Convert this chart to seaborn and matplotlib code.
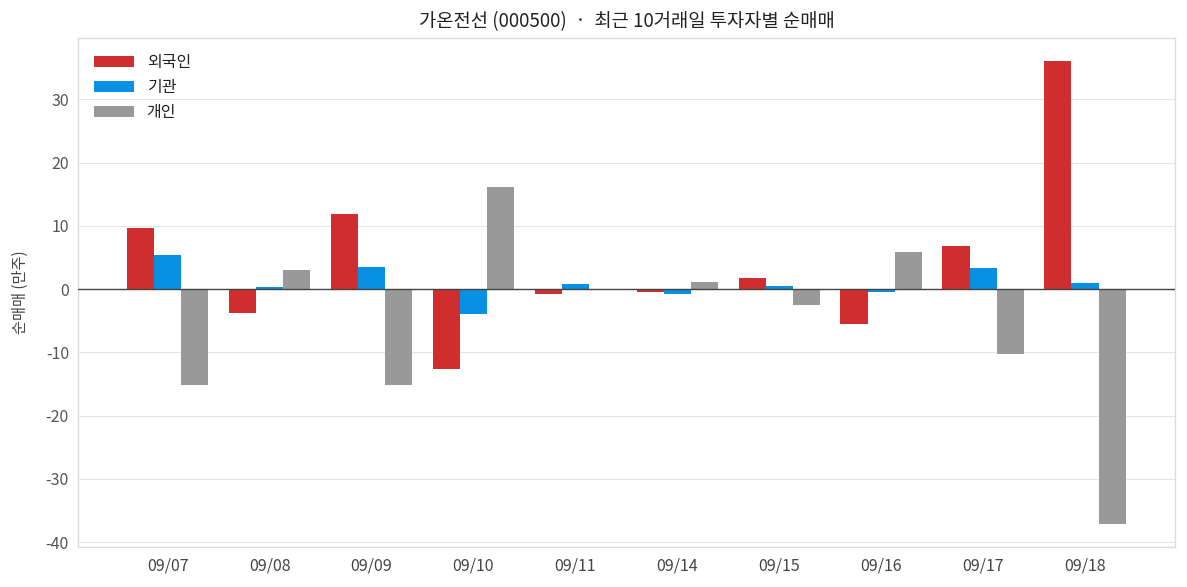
import numpy as np
import pandas as pd
import matplotlib
matplotlib.use('Agg')
import matplotlib.pyplot as plt
import seaborn as sns

DATES    = ['09/07', '09/08', '09/09', '09/10', '09/11', '09/14', '09/15', '09/16', '09/17', '09/18']
FOREIGN  = [9.7, -3.8, 11.9, -12.6, -0.7, -0.4, 1.8, -5.5, 6.8, 36.1]
INST     = [5.4, 0.4, 3.5, -3.9, 0.8, -0.7, 0.5, -0.4, 3.3, 0.9]
RETAIL   = [-15.2, 3.0, -15.2, 16.1, 0.0, 1.1, -2.5, 5.9, -10.2, -37.2]
SERIES   = ['외국인', '기관', '개인']
COLORS   = ['#D02E2E', '#0891E2', '#999999']

df = pd.DataFrame({
    'date': DATES * 3,
    'investor': [SERIES[0]] * 10 + [SERIES[1]] * 10 + [SERIES[2]] * 10,
    'value': FOREIGN + INST + RETAIL,
})

sns.set_theme(style='white')
plt.rcParams['font.family'] = ['Noto Sans CJK KR', 'DejaVu Sans']
plt.rcParams['axes.unicode_minus'] = False

fig = plt.figure(figsize=(11.87, 5.87), dpi=100)
ax = fig.add_axes([0.0657, 0.068, 0.924, 0.867])

sns.barplot(data=df, x='date', y='value', hue='investor', hue_order=SERIES,
            palette=COLORS, width=0.8, saturation=1, linewidth=0, ax=ax, legend=True)

ax.axhline(0, color='#444444', linewidth=1, zorder=3)
ax.set_xlim(-0.88, 9.88)
ax.set_ylim(-40.8, 39.7)
ax.set_yticks([-40, -30, -20, -10, 0, 10, 20, 30])
ax.yaxis.grid(True, color='#e6e6e6', linewidth=0.8)
ax.set_axisbelow(True)
for s in ax.spines.values():
    s.set_color('#dddddd')
    s.set_linewidth(1)
ax.tick_params(axis='x', colors='#444444', labelsize=11.5, length=4, width=1, direction='out')
ax.tick_params(axis='y', colors='#555555', labelsize=11.5, length=3, width=1, direction='out')
ax.tick_params(axis='y', color='#aaaaaa')
ax.set_xlabel('')
ax.set_ylabel('순매매 (만주)', fontsize=11, color='#444444', labelpad=12)
ax.set_title('가온전선 (000500)  ·  최근 10거래일 투자자별 순매매', fontsize=13.5, color='#222222', pad=8)

leg = ax.legend(loc='upper left', frameon=False, fontsize=11.5, handlelength=2.5,
                handleheight=0.7, borderaxespad=0.6)
for t in leg.get_texts():
    t.set_color('#222222')

fig.savefig('out.png', dpi=100)
